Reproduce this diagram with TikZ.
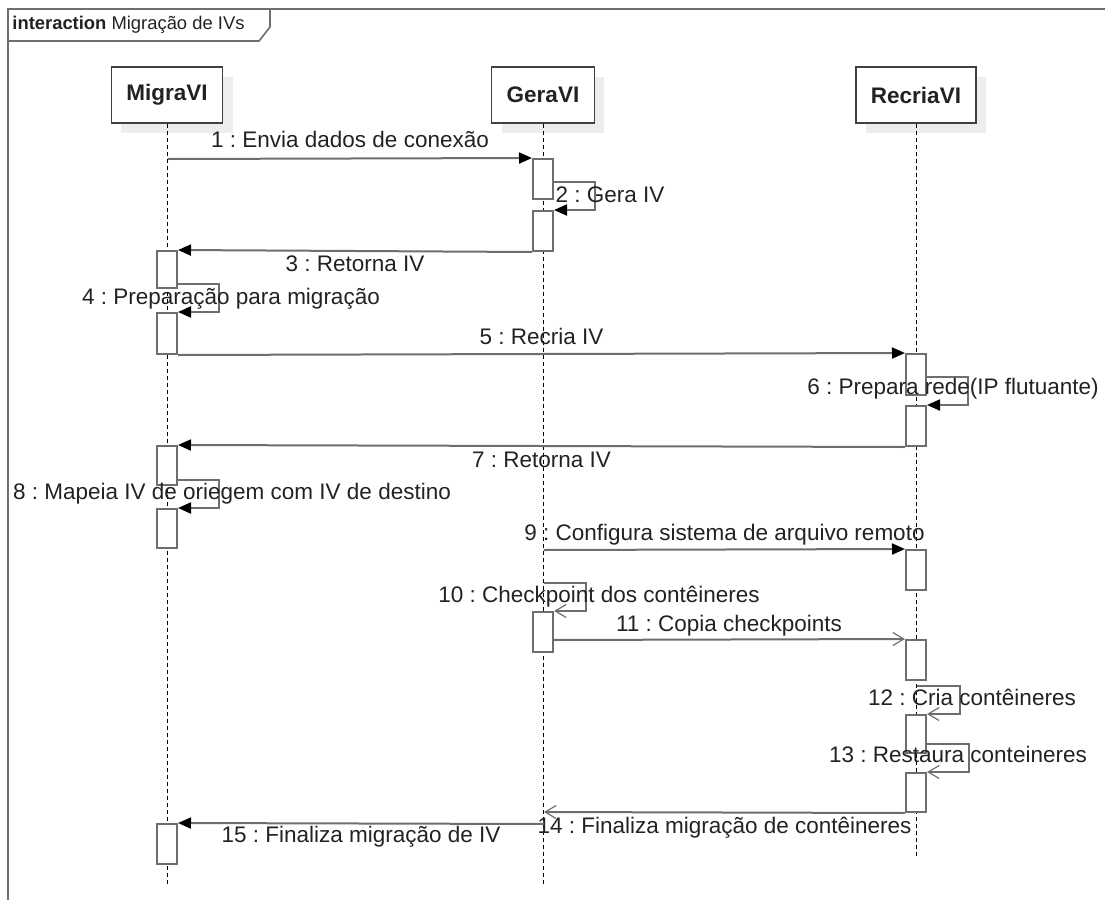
\documentclass[tikz,border=0pt]{standalone}
\usepackage{fontspec}
\setmainfont{Liberation Sans}
\usetikzlibrary{arrows.meta,shadows}
\definecolor{linegray}{HTML}{6E6E6E}
\definecolor{textdark}{HTML}{222222}
\newcommand{\msgfont}{\fontsize{11.25}{13.5}\selectfont}
% activation bar: name, lifeline x, top y, bottom y (pixel units)
\newcommand{\actbar}[4]{\node[actbox, minimum height={(#4-#3)*0.5pt}] (#1) at (#2,{(#3+#4)/2}) {};}
\frenchspacing

\begin{document}
\begin{tikzpicture}[
        x=0.5pt, y=-0.5pt,
        frame/.style={draw=linegray, line width=0.8pt},
        head/.style={draw=black!75, line width=0.6pt, fill=white, text=textdark,
            font=\msgfont\bfseries, inner xsep=7.5pt, minimum height=28pt,
            drop shadow={shadow xshift=5pt, shadow yshift=-5pt, fill=black!7, opacity=1}},
        lifeline/.style={draw=black, line width=0.5pt, dash pattern=on 2pt off 1.5pt},
        actbox/.style={draw=linegray, line width=1pt, fill=white, minimum width=10pt, inner sep=0pt},
        call/.style={draw=linegray, line width=1pt, -{Triangle[length=6.5pt,width=5.5pt,color=black]}},
        async/.style={draw=linegray, line width=1pt, -{Straight Barb[length=5.5pt,width=6.5pt,line width=0.6pt]}},
        lbl/.style={font=\msgfont, text=textdark, inner sep=0pt, text height=8pt, text depth=2pt},
    ]
    \useasboundingbox (0,0) rectangle (1105,900);

    % Frame
    \draw[frame] (1105,9) -- (8,9) -- (8,900);
    \draw[frame] (8,41) -- (259,41) -- (270,27) -- (270,9);
    \node[anchor=west, inner sep=0pt, text=textdark, font=\fontsize{9.2}{11}\selectfont] (title) at (12,25)
        {\textbf{interaction} Migração de IVs};

    % Lifelines
    \node[head] (migra) at (167,95) {MigraVI};
    \node[head] (gera) at (543,95) {GeraVI};
    \node[head] (recria) at (916,95) {RecriaVI};
    \coordinate (migraEnd) at (167,885);
    \coordinate (geraEnd) at (543,885);
    \coordinate (recriaEnd) at (916,858);
    \foreach \n in {migra,gera,recria} \draw[lifeline] (\n.south) -- (\n End);

    % Activation bars
    \actbar{g1}{543}{159}{199}
    \actbar{g2}{543}{211}{251}
    \actbar{g3}{543}{612}{652}
    \actbar{m1}{167}{251}{288}
    \actbar{m2}{167}{313}{354}
    \actbar{m3}{167}{446}{485}
    \actbar{m4}{167}{509}{548}
    \actbar{m5}{167}{824}{864}
    \actbar{r1}{916}{354}{395}
    \actbar{r2}{916}{406}{446}
    \actbar{r3}{916}{550}{590}
    \actbar{r4}{916}{640}{680}
    \actbar{r5}{916}{715}{753}
    \actbar{r6}{916}{773}{812}

    % Message ends
    \coordinate (s1) at (168,159);
    \coordinate (s2) at (553,182);
    \coordinate (s4) at (177,284);
    \coordinate (s6) at (926,377);
    \coordinate (s8) at (177,480);
    \coordinate (s9) at (544,550);
    \coordinate (s10) at (544,583);
    \coordinate (s11) at (553,640);
    \coordinate (s12) at (917,686);
    \coordinate (s13) at (926,744);
    \coordinate (e14) at (544,812);
    \coordinate (s15) at (544,824);

    % Messages
    \draw[call] (s1) -- node[lbl, yshift=8.5pt] (l1) {1 : Envia dados de conexão} (g1.north west);
    \draw[call] (s2) -- ++(42,0) |- (g2.north east);
    \draw[call] (g2.south west) -- node[lbl, yshift=-7pt] (l3) {3 : Retorna IV} (m1.north east);
    \draw[call] (s4) -- ++(42,0) |- (m2.north east);
    \draw[call] (m2.south east) -- node[lbl, yshift=8pt] (l5) {5 : Recria IV} (r1.north west);
    \draw[call] (s6) -- ++(42,0) |- (r2.north east);
    \draw[call] (r2.south west) -- node[lbl, yshift=-7.5pt] (l7) {7 : Retorna IV} (m3.north east);
    \draw[call] (s8) -- ++(42,0) |- (m4.north east);
    \draw[call] (s9) -- node[lbl, yshift=7.5pt] (l9) {9 : Configura sistema de arquivo remoto} (r3.north west);
    \draw[async] (s10) -- ++(42,0) |- (g3.north east);
    \draw[async] (s11) -- node[lbl, yshift=7pt] (l11) {11 : Copia checkpoints} (r4.north west);
    \draw[async] (s12) -- ++(43,0) |- (r5.north east);
    \draw[async] (s13) -- ++(43,0) |- (r6.north east);
    \draw[async] (r6.south west) -- node[lbl, yshift=-7.5pt] (l14) {14 : Finaliza migração de contêineres} (e14);
    \draw[call] (s15) -- node[lbl, yshift=-6.5pt] (l15) {15 : Finaliza migração de IV} (m5.north east);

    % Self call labels
    \node[lbl] (l2) at (610,196) {2 : Gera IV};
    \node[lbl] (l4) at (231,298) {4 : Preparação para migração};
    \node[lbl] (l6) at (953,388) {6 : Prepara rede(IP flutuante)};
    \node[lbl] (l8) at (232,493) {8 : Mapeia IV de oriegem com IV de destino};
    \node[lbl] (l10) at (599,596) {10 : Checkpoint dos contêineres};
    \node[lbl] (l12) at (972,699) {12 : Cria contêineres};
    \node[lbl] (l13) at (958,756) {13 : Restaura conteineres};
\end{tikzpicture}
\end{document}
